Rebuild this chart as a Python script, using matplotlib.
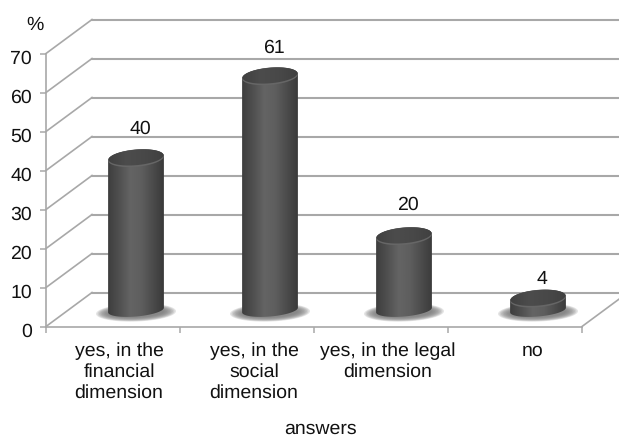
import numpy as np
import matplotlib
matplotlib.use('Agg')
import matplotlib.pyplot as plt
from matplotlib.colors import LinearSegmentedColormap
from matplotlib.patches import Polygon
from matplotlib.transforms import ScaledTranslation

plt.rcParams['font.family'] = ['Liberation Sans', 'DejaVu Sans']
plt.rcParams['text.hinting'] = 'none'

categories = ["yes, in the\nfinancial\ndimension", "yes, in the\nsocial\ndimension",
              "yes, in the legal\ndimension", "no"]
values = [40, 61, 20, 4]
y_ticks = [0, 10, 20, 30, 40, 50, 60, 70]

W, H = 619, 439
fig = plt.figure(figsize=(W / 100., H / 100.), dpi=100)
# axes box is the front plane of the fake 3d chart
left, right, bottom, top = 46, 582, 327.5, 54.5
ax = fig.add_axes([left / W, 1 - bottom / H, (right - left) / W, (bottom - top) / H])

# one pixel in data units
px = 4. / (right - left)
py = 70. / (bottom - top)
depth_x = 46 * px
depth_y = 34 * py

grid_color = '#a8a8a8'
text_color = '#111111'

# walls
for v in y_ticks:
    ax.plot([0, depth_x], [v, v + depth_y], color=grid_color, lw=1.2, clip_on=False, zorder=1)
    ax.plot([depth_x, 4 + depth_x], [v + depth_y] * 2, color=grid_color, lw=1.5, clip_on=False, zorder=1)
ax.plot([4, 4 + depth_x], [0, depth_y], color=grid_color, lw=1.2, clip_on=False, zorder=1)

cyl_cmap = LinearSegmentedColormap.from_list('cyl', ['#3e3e3e', '#505050', '#646464', '#5e5e5e', '#4c4c4c', '#3a3a3a'])
cap_cmap = LinearSegmentedColormap.from_list('cap', ['#404040', '#4c4c4c', '#484848', '#404040'])


def ellipse(cx, cy, w, h, tilt=5.0, start=0., stop=360., n=80):
    # ellipse worked out in pixels, then brought back to data units
    t = np.radians(np.linspace(start, stop, n))
    a = np.radians(tilt)
    ex = w / 2. * np.cos(t)
    ey = h / 2. * np.sin(t)
    xs = ex * np.cos(a) - ey * np.sin(a)
    ys = ex * np.sin(a) + ey * np.cos(a)
    return np.column_stack([cx + xs * px, cy + ys * py])


def gradient(patch, cmap, x0, x1, y0, y1, zorder):
    g = np.linspace(0, 1, 120).reshape(1, -1)
    im = ax.imshow(g, cmap=cmap, extent=(x0, x1, y0, y1), aspect='auto', zorder=zorder, vmin=0, vmax=1)
    im.set_clip_path(patch)
    im.set_clip_on(True)


bar_w = 56
base = 15 * py
label_gap = [28, 27, 30, 18]
for i, v in enumerate(values):
    cx = i + 0.5 + 23 * px
    cap_y = v + base - 2.5 * py
    # soft shadow on the floor
    for k in range(9):
        sw = 80 - k * 3.0
        sh = 18 - k * 1.0
        ax.add_patch(Polygon(ellipse(cx, base - 1 * py, sw, sh, tilt=2), closed=True, fc='#787878',
                             ec='none', alpha=0.2, zorder=2, clip_on=False))
    # body: bottom arc and side edges
    low = ellipse(cx, base + 1.5 * py, bar_w, 13, start=180, stop=360)
    high = ellipse(cx, cap_y, bar_w, 17, start=0, stop=180)
    body = Polygon(np.vstack([low, high]), closed=True, fc='none', ec='none', zorder=3, clip_on=False)
    ax.add_patch(body)
    gradient(body, cyl_cmap, cx - bar_w / 2. * px, cx + bar_w / 2. * px, base - 12 * py, cap_y + 12 * py, 3)
    # cap
    rim = Polygon(ellipse(cx, cap_y - 0.3 * py, bar_w, 17), closed=True, fc='#666666', ec='none', zorder=4, clip_on=False)
    ax.add_patch(rim)
    cap = Polygon(ellipse(cx, cap_y + 0.6 * py, bar_w - 1, 15.5), closed=True, fc='none', ec='none', zorder=5, clip_on=False)
    ax.add_patch(cap)
    gradient(cap, cap_cmap, cx - bar_w / 2. * px, cx + bar_w / 2. * px, cap_y - 12 * py, cap_y + 12 * py, 5)
    ax.text(cx + 4 * px, v + base + label_gap[i] * py, str(v), ha='center', va='center', fontsize=14,
            color=text_color, zorder=6)

ax.set_xlim(0, 4)
ax.set_ylim(0, 70)

for s in ['top', 'right']:
    ax.spines[s].set_visible(False)
for s in ['left', 'bottom']:
    ax.spines[s].set_color(grid_color)
    ax.spines[s].set_linewidth(1.2)
    ax.spines[s].set_zorder(1)

ax.set_yticks(y_ticks)
ax.set_xticks(range(5))
ax.set_xticklabels([])
ax.tick_params(axis='both', which='major', color=grid_color, length=4, width=1.1, labelsize=14,
               labelcolor=text_color, pad=6)
# numbers sit a touch lower than the ticks
nudge = ScaledTranslation(0, -2 / 72., fig.dpi_scale_trans)
for label in ax.get_yticklabels():
    label.set_transform(label.get_transform() + nudge)

label_shift = [6, 7, 7, 18]
for i, label in enumerate(categories):
    ax.text(i + 0.5 + label_shift[i] * px, -15 * py, label, ha='center', va='top', fontsize=14, color=text_color,
            linespacing=1.22, clip_on=False)

ax.text(-11 * px, 70 + 30 * py, '%', ha='center', va='center', fontsize=14, color=text_color, clip_on=False)
ax.text(2 + 6 * px, -101.5 * py, 'answers', ha='center', va='center', fontsize=14, color=text_color, clip_on=False)

fig.savefig('out.png', dpi=100)
